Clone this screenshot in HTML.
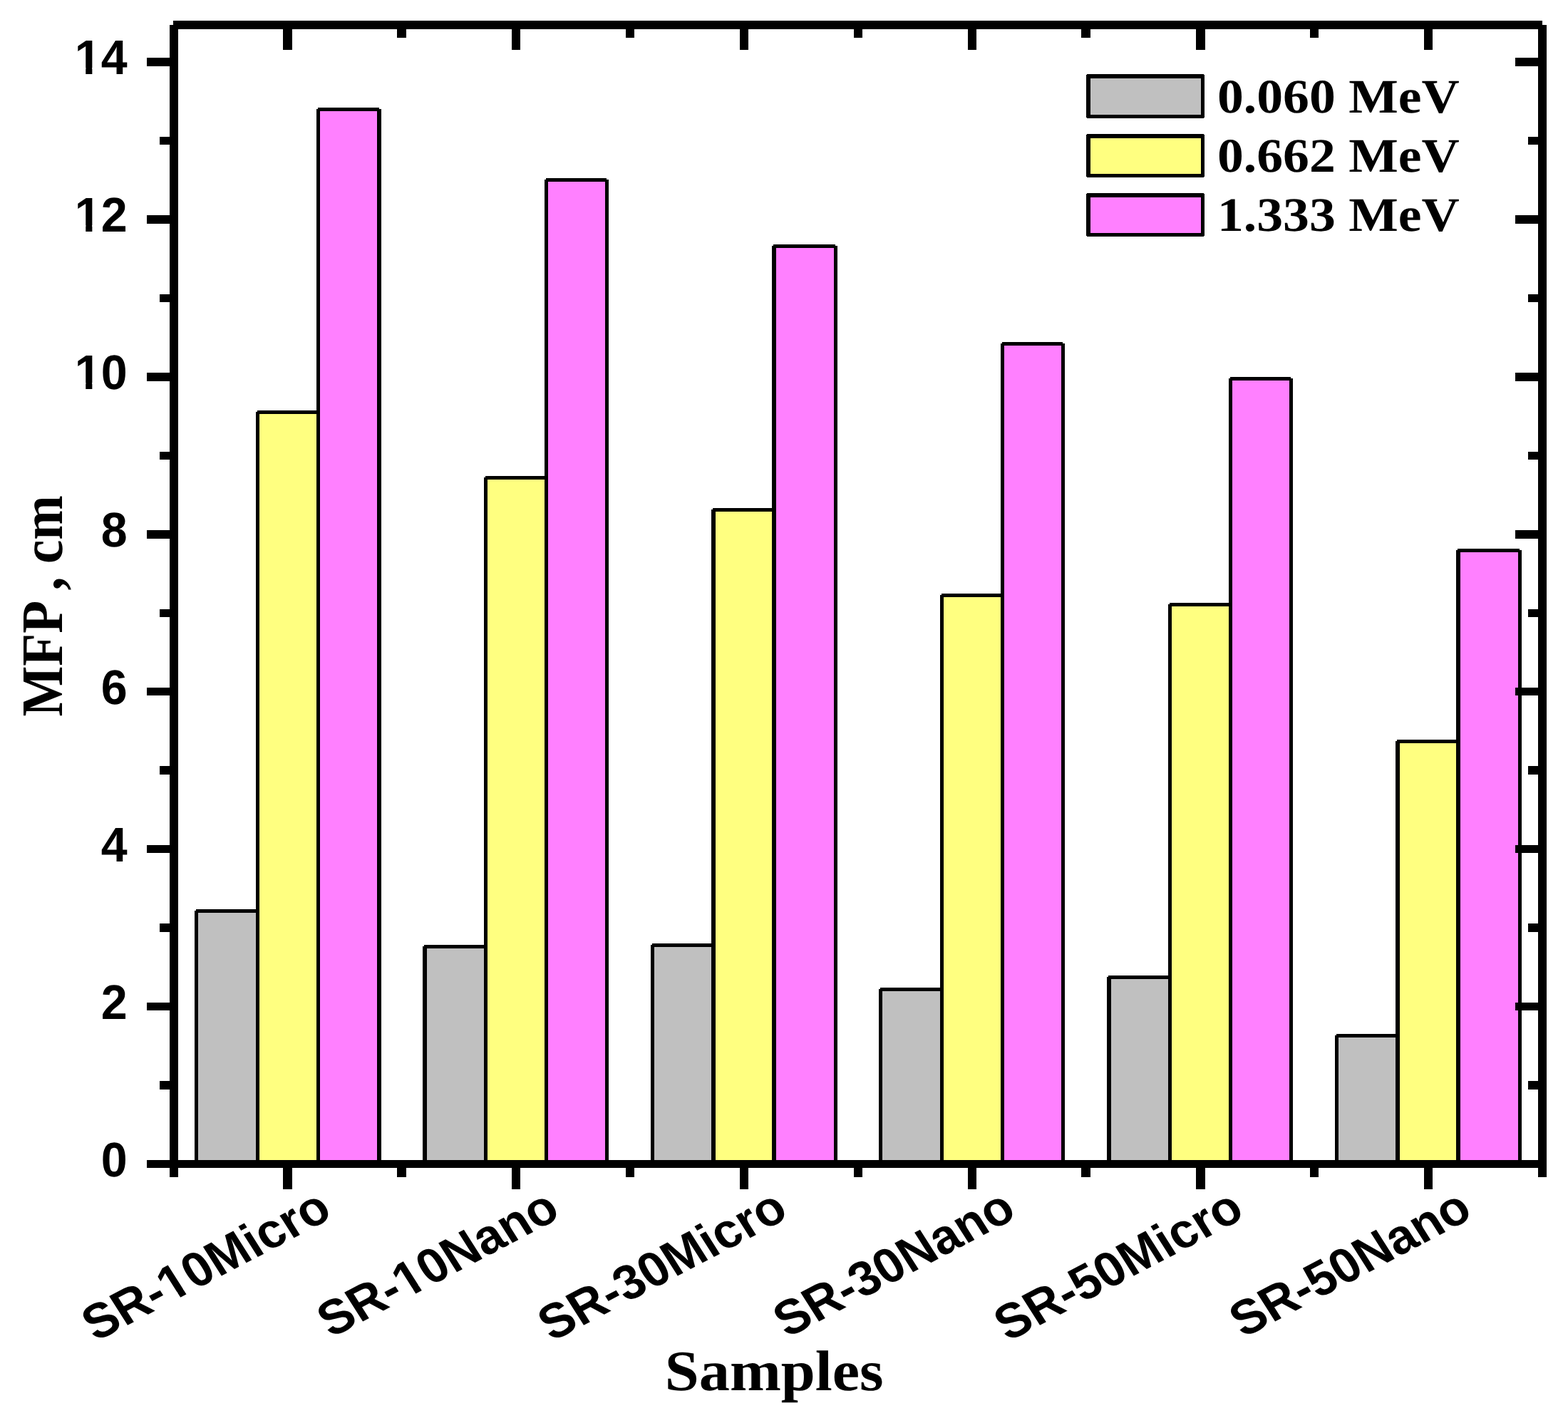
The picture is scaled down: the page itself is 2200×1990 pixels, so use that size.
<!DOCTYPE html>
<html lang="en">
<head>
<meta charset="utf-8">
<title>MFP of samples</title>
<style>
html,body{margin:0;padding:0;background:#ffffff;}
body{width:2200px;height:1990px;}
svg{display:block;}
text{fill:#000;}
</style>
</head>
<body>
<svg role="img" aria-label="Bar chart of mean free path (MFP, cm) for six samples at 0.060, 0.662 and 1.333 MeV" width="2200" height="1990" viewBox="0 0 2200 1990" shape-rendering="crispEdges" text-rendering="geometricPrecision">
<rect x="0" y="0" width="2200" height="1990" fill="#ffffff"/>
<g id="bars">
<rect x="278" y="1281" width="81" height="349" fill="#c0c0c0"/>
<rect x="275" y="1276" width="86" height="5" fill="#000"/>
<rect x="273" y="1278" width="5" height="352" fill="#000"/>
<rect x="359" y="1278" width="5" height="352" fill="#000"/>
<rect x="364" y="581" width="80" height="1049" fill="#ffff80"/>
<rect x="361" y="576" width="85" height="5" fill="#000"/>
<rect x="359" y="578" width="5" height="1052" fill="#000"/>
<rect x="444" y="578" width="5" height="1052" fill="#000"/>
<rect x="449" y="156" width="80" height="1474" fill="#ff80ff"/>
<rect x="446" y="151" width="86" height="5" fill="#000"/>
<rect x="444" y="153" width="5" height="1477" fill="#000"/>
<rect x="529" y="153" width="6" height="1477" fill="#000"/>
<rect x="599" y="1331" width="80" height="299" fill="#c0c0c0"/>
<rect x="595" y="1326" width="86" height="5" fill="#000"/>
<rect x="593" y="1328" width="6" height="302" fill="#000"/>
<rect x="679" y="1328" width="5" height="302" fill="#000"/>
<rect x="684" y="673" width="80" height="957" fill="#ffff80"/>
<rect x="681" y="668" width="85" height="5" fill="#000"/>
<rect x="679" y="670" width="5" height="960" fill="#000"/>
<rect x="764" y="670" width="5" height="960" fill="#000"/>
<rect x="769" y="255" width="80" height="1375" fill="#ff80ff"/>
<rect x="766" y="250" width="85" height="5" fill="#000"/>
<rect x="764" y="252" width="5" height="1378" fill="#000"/>
<rect x="849" y="252" width="5" height="1378" fill="#000"/>
<rect x="918" y="1329" width="80" height="301" fill="#c0c0c0"/>
<rect x="915" y="1324" width="86" height="5" fill="#000"/>
<rect x="913" y="1326" width="5" height="304" fill="#000"/>
<rect x="998" y="1326" width="6" height="304" fill="#000"/>
<rect x="1004" y="718" width="79" height="912" fill="#ffff80"/>
<rect x="1000" y="713" width="86" height="5" fill="#000"/>
<rect x="998" y="715" width="6" height="915" fill="#000"/>
<rect x="1083" y="715" width="6" height="915" fill="#000"/>
<rect x="1089" y="348" width="81" height="1282" fill="#ff80ff"/>
<rect x="1085" y="343" width="87" height="5" fill="#000"/>
<rect x="1083" y="345" width="6" height="1285" fill="#000"/>
<rect x="1170" y="345" width="5" height="1285" fill="#000"/>
<rect x="1238" y="1391" width="81" height="239" fill="#c0c0c0"/>
<rect x="1235" y="1386" width="86" height="5" fill="#000"/>
<rect x="1233" y="1388" width="5" height="242" fill="#000"/>
<rect x="1319" y="1388" width="5" height="242" fill="#000"/>
<rect x="1324" y="838" width="80" height="792" fill="#ffff80"/>
<rect x="1321" y="833" width="85" height="5" fill="#000"/>
<rect x="1319" y="835" width="5" height="795" fill="#000"/>
<rect x="1404" y="835" width="5" height="795" fill="#000"/>
<rect x="1409" y="485" width="80" height="1145" fill="#ff80ff"/>
<rect x="1406" y="480" width="85" height="5" fill="#000"/>
<rect x="1404" y="482" width="5" height="1148" fill="#000"/>
<rect x="1489" y="482" width="5" height="1148" fill="#000"/>
<rect x="1559" y="1374" width="80" height="256" fill="#c0c0c0"/>
<rect x="1555" y="1369" width="86" height="5" fill="#000"/>
<rect x="1553" y="1371" width="6" height="259" fill="#000"/>
<rect x="1639" y="1371" width="5" height="259" fill="#000"/>
<rect x="1644" y="851" width="80" height="779" fill="#ffff80"/>
<rect x="1641" y="846" width="85" height="5" fill="#000"/>
<rect x="1639" y="848" width="5" height="782" fill="#000"/>
<rect x="1724" y="848" width="5" height="782" fill="#000"/>
<rect x="1729" y="534" width="80" height="1096" fill="#ff80ff"/>
<rect x="1726" y="529" width="85" height="5" fill="#000"/>
<rect x="1724" y="531" width="5" height="1099" fill="#000"/>
<rect x="1809" y="531" width="5" height="1099" fill="#000"/>
<rect x="1878" y="1456" width="80" height="174" fill="#c0c0c0"/>
<rect x="1875" y="1451" width="86" height="5" fill="#000"/>
<rect x="1873" y="1453" width="5" height="177" fill="#000"/>
<rect x="1958" y="1453" width="6" height="177" fill="#000"/>
<rect x="1964" y="1043" width="79" height="587" fill="#ffff80"/>
<rect x="1960" y="1038" width="86" height="5" fill="#000"/>
<rect x="1958" y="1040" width="6" height="590" fill="#000"/>
<rect x="2043" y="1040" width="6" height="590" fill="#000"/>
<rect x="2049" y="775" width="81" height="855" fill="#ff80ff"/>
<rect x="2045" y="770" width="87" height="5" fill="#000"/>
<rect x="2043" y="772" width="6" height="858" fill="#000"/>
<rect x="2130" y="772" width="5" height="858" fill="#000"/>
</g>
<g id="axes">
<rect x="238" y="35" width="12" height="1617" fill="#000"/>
<rect x="2158" y="35" width="12" height="1617" fill="#000"/>
<rect x="243" y="29" width="1921" height="12" fill="#000"/>
<rect x="206" y="1628" width="1964" height="11" fill="#000"/>
<rect x="206" y="1627.75" width="32" height="11.5" fill="#000"/>
<rect x="2126" y="1627.75" width="32" height="11.5" fill="#000"/>
<rect x="224" y="1517.29" width="14" height="11.5" fill="#000"/>
<rect x="2144" y="1517.29" width="14" height="11.5" fill="#000"/>
<rect x="206" y="1406.83" width="32" height="11.5" fill="#000"/>
<rect x="2126" y="1406.83" width="32" height="11.5" fill="#000"/>
<rect x="224" y="1296.37" width="14" height="11.5" fill="#000"/>
<rect x="2144" y="1296.37" width="14" height="11.5" fill="#000"/>
<rect x="206" y="1185.91" width="32" height="11.5" fill="#000"/>
<rect x="2126" y="1185.91" width="32" height="11.5" fill="#000"/>
<rect x="224" y="1075.45" width="14" height="11.5" fill="#000"/>
<rect x="2144" y="1075.45" width="14" height="11.5" fill="#000"/>
<rect x="206" y="964.99" width="32" height="11.5" fill="#000"/>
<rect x="2126" y="964.99" width="32" height="11.5" fill="#000"/>
<rect x="224" y="854.53" width="14" height="11.5" fill="#000"/>
<rect x="2144" y="854.53" width="14" height="11.5" fill="#000"/>
<rect x="206" y="744.07" width="32" height="11.5" fill="#000"/>
<rect x="2126" y="744.07" width="32" height="11.5" fill="#000"/>
<rect x="224" y="633.61" width="14" height="11.5" fill="#000"/>
<rect x="2144" y="633.61" width="14" height="11.5" fill="#000"/>
<rect x="206" y="523.15" width="32" height="11.5" fill="#000"/>
<rect x="2126" y="523.15" width="32" height="11.5" fill="#000"/>
<rect x="224" y="412.69" width="14" height="11.5" fill="#000"/>
<rect x="2144" y="412.69" width="14" height="11.5" fill="#000"/>
<rect x="206" y="302.23" width="32" height="11.5" fill="#000"/>
<rect x="2126" y="302.23" width="32" height="11.5" fill="#000"/>
<rect x="224" y="191.77" width="14" height="11.5" fill="#000"/>
<rect x="2144" y="191.77" width="14" height="11.5" fill="#000"/>
<rect x="206" y="81.31" width="32" height="11.5" fill="#000"/>
<rect x="2126" y="81.31" width="32" height="11.5" fill="#000"/>
<rect x="397" y="41" width="13" height="29" fill="#000"/>
<rect x="397" y="1639" width="13" height="30" fill="#000"/>
<rect x="557" y="41" width="13" height="12" fill="#000"/>
<rect x="557" y="1639" width="13" height="13" fill="#000"/>
<rect x="718" y="41" width="12" height="29" fill="#000"/>
<rect x="718" y="1639" width="12" height="30" fill="#000"/>
<rect x="878" y="41" width="12" height="12" fill="#000"/>
<rect x="878" y="1639" width="12" height="13" fill="#000"/>
<rect x="1038" y="41" width="12" height="29" fill="#000"/>
<rect x="1038" y="1639" width="12" height="30" fill="#000"/>
<rect x="1198" y="41" width="12" height="12" fill="#000"/>
<rect x="1198" y="1639" width="12" height="13" fill="#000"/>
<rect x="1358" y="41" width="12" height="29" fill="#000"/>
<rect x="1358" y="1639" width="12" height="30" fill="#000"/>
<rect x="1517" y="41" width="13" height="12" fill="#000"/>
<rect x="1517" y="1639" width="13" height="13" fill="#000"/>
<rect x="1678" y="41" width="13" height="29" fill="#000"/>
<rect x="1678" y="1639" width="13" height="30" fill="#000"/>
<rect x="1838" y="41" width="12" height="12" fill="#000"/>
<rect x="1838" y="1639" width="12" height="13" fill="#000"/>
<rect x="1998" y="41" width="12" height="29" fill="#000"/>
<rect x="1998" y="1639" width="12" height="30" fill="#000"/>
</g>
<g id="legend">
<rect x="1526.75" y="106.75" width="160.5" height="56.5" fill="#c0c0c0" stroke="#000" stroke-width="5.5" stroke-linejoin="round"/>
<rect x="1526.75" y="190.75" width="160.5" height="55.5" fill="#ffff80" stroke="#000" stroke-width="5.5" stroke-linejoin="round"/>
<rect x="1526.75" y="273.75" width="160.5" height="55.5" fill="#ff80ff" stroke="#000" stroke-width="5.5" stroke-linejoin="round"/>
</g>
<defs>
<clipPath id="c1t"><path clip-rule="evenodd" d="M-3000,-300H300V300H-3000ZM-72.64,-8.97H-60.03V4H-72.64ZM-50.66,-8.97H-38.95V4H-50.66Z"/></clipPath>
<clipPath id="c1m"><path clip-rule="evenodd" d="M-3000,-300H300V300H-3000ZM-255.91,-9.00H-243.25V4H-255.91ZM-233.84,-9.00H-222.08V4H-233.84Z"/></clipPath>
<clipPath id="c1n"><path clip-rule="evenodd" d="M-3000,-300H300V300H-3000ZM-244.45,-9.00H-231.79V4H-244.45ZM-222.38,-9.00H-210.62V4H-222.38Z"/></clipPath>
</defs>
<g id="ticklabels" font-family='"Liberation Sans", Arial, sans-serif' font-weight="bold" font-size="68.3" text-anchor="end">
<text transform="translate(178.6,1650.5) scale(0.972,1)">0</text>
<text transform="translate(178.6,1429.58) scale(0.972,1)">2</text>
<text transform="translate(178.6,1208.66) scale(0.972,1)">4</text>
<text transform="translate(178.6,987.74) scale(0.972,1)">6</text>
<text transform="translate(178.6,766.82) scale(0.972,1)">8</text>
<text transform="translate(178.6,545.9) scale(0.972,1)" clip-path="url(#c1t)">10</text>
<text transform="translate(178.6,324.98) scale(0.972,1)" clip-path="url(#c1t)">12</text>
<text transform="translate(178.6,104.06) scale(0.972,1)" clip-path="url(#c1t)">14</text>
</g>
<g id="legendtext" font-family='"Liberation Serif", "Times New Roman", serif' font-weight="bold" font-size="67.5">
<text transform="translate(1708,157.6) scale(1.0916,1)">0.060 MeV</text>
<text transform="translate(1708,241) scale(1.0916,1)">0.662 MeV</text>
<text transform="translate(1708,324.4) scale(1.0916,1)">1.333 MeV</text>
</g>
<text id="ytitle" font-family='"Liberation Serif", "Times New Roman", serif' font-weight="bold" font-size="75.0" text-anchor="middle" transform="translate(87,850.3) scale(1.1,1) rotate(-90)">MFP , cm</text>
<text id="xtitle" font-family='"Liberation Serif", "Times New Roman", serif' font-weight="bold" font-size="80.5" text-anchor="middle" transform="translate(1086.2,1950.8) scale(1.072,1)">Samples</text>
<g id="xlabels" font-family='"Liberation Sans", Arial, sans-serif' font-weight="bold" font-size="68.6" text-anchor="end">
<text transform="translate(469,1707.6) scale(1.1,1) rotate(-30) scale(0.931,1)" clip-path="url(#c1m)">SR-10Micro</text>
<text transform="translate(789,1707.6) scale(1.1,1) rotate(-30) scale(0.931,1)" clip-path="url(#c1n)">SR-10Nano</text>
<text transform="translate(1109,1707.6) scale(1.1,1) rotate(-30) scale(0.931,1)">SR-30Micro</text>
<text transform="translate(1429,1707.6) scale(1.1,1) rotate(-30) scale(0.931,1)">SR-30Nano</text>
<text transform="translate(1749,1707.6) scale(1.1,1) rotate(-30) scale(0.931,1)">SR-50Micro</text>
<text transform="translate(2069,1707.6) scale(1.1,1) rotate(-30) scale(0.931,1)">SR-50Nano</text>
</g>
</svg>
</body>
</html>
